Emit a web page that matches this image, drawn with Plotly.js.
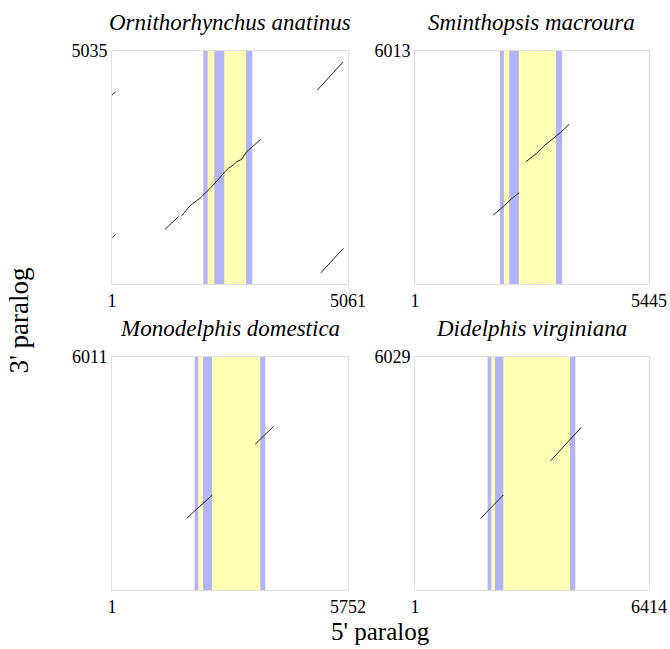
<!DOCTYPE html>
<html>
<head>
<meta charset="utf-8">
<script src="https://cdn.plot.ly/plotly-3.0.1.min.js"></script>
<style>html,body{margin:0;padding:0;background:#fff;}#chart{width:670px;height:649px;}</style>
</head>
<body>
<div id="chart"></div>
<script>
// Species (panel titles)
const species = ["Ornithorhynchus anatinus", "Sminthopsis macroura", "Monodelphis domestica", "Didelphis virginiana"];
// Sequence lengths: 5' paralog (x) and 3' paralog (y)
const xLen = [5061, 5445, 5752, 6414];
const yLen = [5035, 6013, 6011, 6029];

// Shaded regions along 5' paralog (start, end)
const yellowBands = [
  [[1958, 3008]],
  [[1977, 3426]],
  [[2015, 3736]],
  [[1992, 4394]]
];
const blueBands = [
  [[1958, 2052], [2194, 2408], [2873, 3008]],
  [[1977, 2070], [2193, 2419], [3280, 3426]],
  [[2015, 2103], [2218, 2437], [3614, 3736]],
  [[1992, 2093], [2191, 2421], [4249, 4394]]
];

// Dot-plot alignment segments (null separates segments)
const p1x = [1, 80, null, 1, 80, null, 4402, 4953, null, 4481, 4960, null,
  1137, 1423, null, 1495, 1658, 1688, 1888, 1958, 2173, 2424, 2495, 2602, 2675, 2782, 2889, 3030, 3189];
const p1y = [4082, 4154, null, 987, 1073, null, 4190, 4795, null, 244, 771, null,
  1182, 1455, null, 1476, 1658, 1707, 1852, 1923, 2139, 2427, 2500, 2571, 2643, 2695, 2859, 2982, 3127];
const p2x = [1822, 2054, 2210, 2427, null, 2583, 2831, 3024, 3180, 3412, 3590];
const p2y = [1781, 1995, 2168, 2357, null, 3156, 3373, 3587, 3716, 3930, 4129];
const p3x = [1821, 2445, null, 3493, 3941];
const p3y = [1850, 2451, null, 3767, 4224];
const p4x = [1802, 2421, null, 3720, 4558];
const p4y = [1855, 2458, null, 3345, 4209];

const segX = [p1x, p2x, p3x, p4x];
const segY = [p1y, p2y, p3y, p4y];

const serif = "Liberation Serif, Times New Roman, serif";
const blue = "#b3b3f7";
const yellow = "#ffffb5";

const xDom = [[0, 0.4395], [0.5642, 1]];
const yDom = [[0.5677, 1], [0, 0.4323]];

const traces = [];
const shapes = [];
const annotations = [];
const layout = {
  width: 670, height: 649,
  margin: {l: 112, r: 21, t: 51, b: 59},
  paper_bgcolor: "#fff", plot_bgcolor: "#fff",
  showlegend: false,
  font: {family: serif, size: 18, color: "#000"}
};

for (let i = 0; i < 4; i++) {
  const n = i + 1;
  const xa = "x" + (n === 1 ? "" : n);
  const ya = "y" + (n === 1 ? "" : n);
  const col = i % 2, row = Math.floor(i / 2);
  layout["xaxis" + (n === 1 ? "" : n)] = {
    domain: xDom[col], anchor: ya, range: [1, xLen[i]],
    tickvals: [1, xLen[i]], ticktext: ["1", String(xLen[i])],
    showgrid: false, zeroline: false, showline: true, mirror: true,
    linecolor: "#dedede", linewidth: 1, ticks: "",
    tickfont: {family: serif, size: 18, color: "#000"}
  };
  layout["yaxis" + (n === 1 ? "" : n)] = {
    domain: yDom[row], anchor: xa, range: [1, yLen[i]],
    tickvals: [yLen[i]], ticktext: [String(yLen[i])],
    showgrid: false, zeroline: false, showline: true, mirror: true,
    linecolor: "#dedede", linewidth: 1, ticks: "",
    tickfont: {family: serif, size: 18, color: "#000"}
  };
  yellowBands[i].forEach(b => shapes.push({
    type: "rect", xref: xa, yref: ya + " domain", x0: b[0], x1: b[1], y0: 0, y1: 1,
    fillcolor: yellow, line: {width: 0}, layer: "below"
  }));
  blueBands[i].forEach(b => shapes.push({
    type: "rect", xref: xa, yref: ya + " domain", x0: b[0], x1: b[1], y0: 0, y1: 1,
    fillcolor: blue, line: {width: 0}, layer: "below"
  }));
  traces.push({
    type: "scatter", mode: "lines", x: segX[i], y: segY[i],
    xaxis: xa, yaxis: ya, connectgaps: false,
    line: {color: "#222", width: 1}, hoverinfo: "skip"
  });
  annotations.push({
    text: "<i>" + species[i] + "</i>", xref: "paper", yref: "paper",
    x: (xDom[col][0] + xDom[col][1]) / 2, y: yDom[row][1],
    xanchor: "center", yanchor: "bottom", yshift: 14, showarrow: false,
    font: {family: serif, size: 23, color: "#000"}
  });
}
annotations.push({
  text: "5' paralog", xref: "paper", yref: "paper", x: 0.5, y: 0,
  xanchor: "center", yanchor: "middle", yshift: -41, showarrow: false,
  font: {family: serif, size: 25, color: "#000"}
});
annotations.push({
  text: "3' paralog", xref: "paper", yref: "paper", x: 0, y: 0.5,
  xanchor: "center", yanchor: "middle", xshift: -94, textangle: -90, showarrow: false,
  font: {family: serif, size: 27, color: "#000"}
});
layout.shapes = shapes;
layout.annotations = annotations;

Plotly.newPlot("chart", traces, layout, {displayModeBar: false, staticPlot: true});
</script>
</body>
</html>
